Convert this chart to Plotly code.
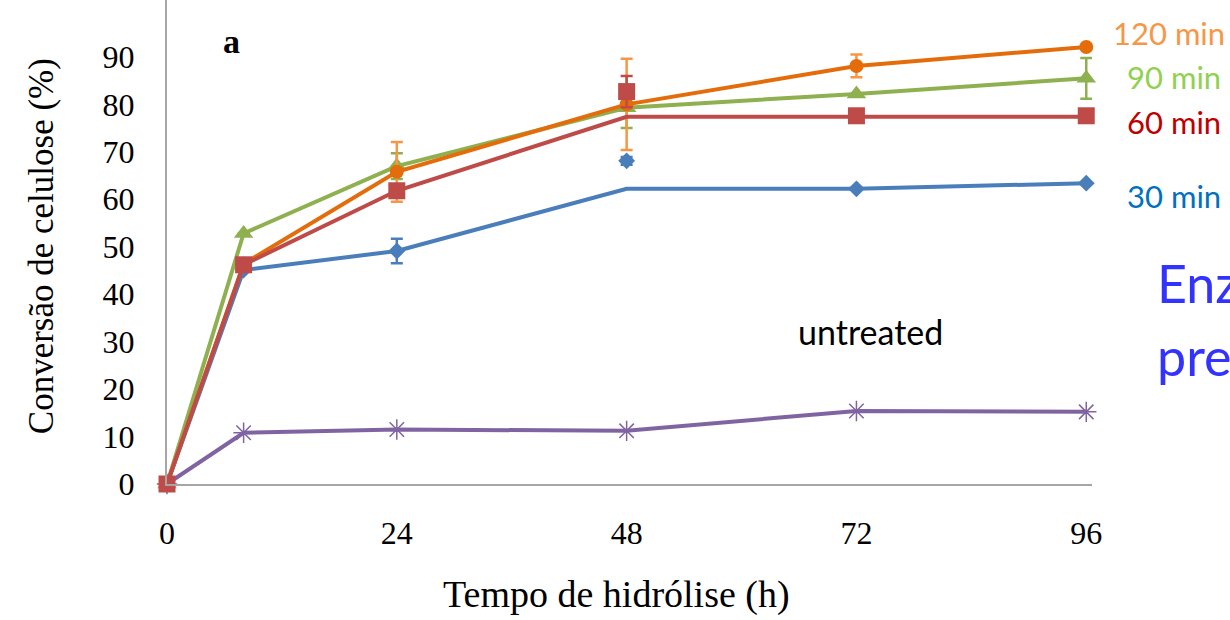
import plotly.graph_objects as go

hours = [0, 8, 24, 48, 72, 96]

# 30 min (blue)
blue_line = [0, 45.1, 49.1, 62.2, 62.2, 63.4]
blue_mark = [0, 45.1, 49.1, 68.1, 62.2, 63.4]
blue_err = [0, 0, 2.6, 0.8, 0, 0]
# 60 min (red)
red_line = [0, 46.2, 61.8, 77.4, 77.4, 77.4]
red_mark = [0, 46.2, 61.8, 82.7, 77.6, 77.6]
red_err = [0, 0, 0, 3.3, 0, 0]
# 90 min (green)
green_line = [0, 52.8, 67.0, 79.3, 82.2, 85.5]
green_mark = [0, 52.8, 67.0, 79.3, 82.2, 85.5]
green_err = [0, 0, 2.7, 4.3, 0, 4.3]
# 120 min (orange)
orange_line = [0, 46.4, 65.8, 80.0, 88.1, 92.1]
orange_mark = [0, 46.4, 65.8, 80.0, 88.1, 92.1]
orange_err = [0, 0, 6.3, 9.6, 2.4, 0]
# untreated (purple)
purple_vals = [0, 10.8, 11.5, 11.2, 15.4, 15.2]

x_ticks = [0, 24, 48, 72, 96]
y_ticks = [0, 10, 20, 30, 40, 50, 60, 70, 80, 90]

fig = go.Figure()

def add_series(line_vals, mark_vals, err, color, err_color, symbol, msize):
    fig.add_trace(go.Scatter(x=hours, y=line_vals, mode="lines",
                             line=dict(color=color, width=4),
                             showlegend=False, cliponaxis=False, hoverinfo="skip"))
    fig.add_trace(go.Scatter(x=hours, y=mark_vals, mode="markers",
                             marker=dict(color=color, size=msize, symbol=symbol),
                             error_y=dict(type="data", array=err, visible=True,
                                          color=err_color, thickness=2.5, width=6),
                             showlegend=False, cliponaxis=False))

# untreated
fig.add_trace(go.Scatter(x=hours, y=purple_vals, mode="lines+markers",
                         line=dict(color="#8064A2", width=4),
                         marker=dict(symbol="asterisk-open", size=17,
                                     line=dict(color="#7D60A0", width=1.5)),
                         showlegend=False, cliponaxis=False))
add_series(blue_line, blue_mark, blue_err, "#4A7EBB", "#4A7EBB", "diamond", 13)
add_series(green_line, green_mark, green_err, "#8EB04F", "#8EB04F", "triangle-up", 17)
add_series(orange_line, orange_mark, orange_err, "#E46C0A", "#F79646", "circle", 14)
add_series(red_line, red_mark, red_err, "#BE4B48", "#BE4B48", "square", 17)

serif = "Liberation Serif, Times New Roman, serif"
sans = "Lato, Calibri, sans-serif"

def side_label(text, px, py, size, color):
    # px, py: pixel position of the label's left edge / vertical centre
    return dict(x=(px - 167) / 925, y=(484 - py) / 484, xref="paper", yref="paper",
                text=text, xanchor="left", yanchor="middle", showarrow=False,
                font=dict(family=sans, size=size, color=color))

annotations = [
    dict(x=-0.136, y=(484 - 246) / 484, xref="paper", yref="paper", text="Conversão de celulose (%)",
         textangle=-90, xanchor="center", yanchor="middle", showarrow=False,
         font=dict(family=serif, size=35, color="#000")),
    dict(x=(616 - 167) / 925, y=(484 - 594) / 484, xref="paper", yref="paper",
         text="Tempo de hidrólise (h)",
         xanchor="center", yanchor="middle", showarrow=False,
         font=dict(family=serif, size=38, color="#000")),
    dict(x=6.7, y=93.2, xref="x", yref="y", text="<b>a</b>", showarrow=False,
         font=dict(family=serif, size=34, color="#000")),
    side_label("120 min", 1111, 33, 31, "#F79646"),
    side_label("90 min", 1125, 77, 31, "#92D050"),
    side_label("60 min", 1125, 122, 31, "#C00000"),
    side_label("30 min", 1125, 196, 31, "#0070C0"),
    side_label("untreated", 796, 332, 34, "#000000"),
    side_label("Enz", 1155, 283, 52, "#3333FF"),
    side_label("pre", 1155, 356, 52, "#3333FF"),
]

fig.update_layout(
    width=1230, height=620,
    margin=dict(l=167, r=138, t=0, b=136),
    paper_bgcolor="white", plot_bgcolor="white",
    annotations=annotations,
    xaxis=dict(range=[0, 96.6], tickvals=x_ticks, ticktext=[str(v) for v in x_ticks],
               showgrid=False, zeroline=False, showline=True, linecolor="#A6A6A6",
               linewidth=2, ticks="", ticklabelstandoff=20,
               tickfont=dict(family=serif, size=32, color="#000")),
    yaxis=dict(range=[0, 102], tickvals=y_ticks, ticktext=[str(v) for v in y_ticks],
               showgrid=False, zeroline=False, showline=True, linecolor="#A6A6A6",
               linewidth=2, ticks="", ticklabelstandoff=24,
               tickfont=dict(family=serif, size=32, color="#000")),
)

fig.write_html("out.html")
